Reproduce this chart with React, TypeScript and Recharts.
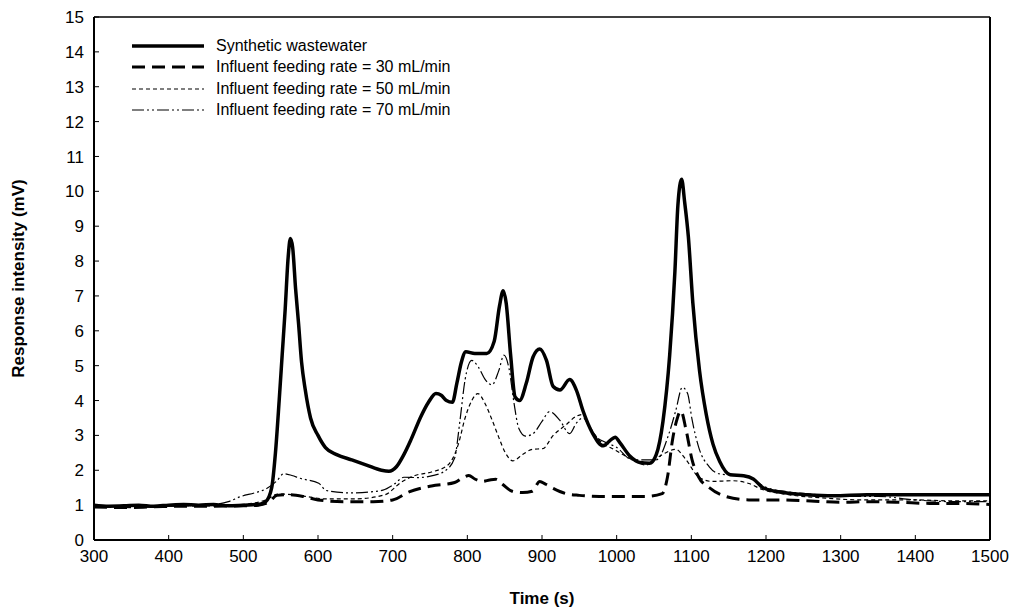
import React from "react";
import { Line, LineChart, ReferenceLine, XAxis, YAxis } from "recharts";

const FONT = '"Liberation Sans", Arial, Helvetica, sans-serif';

const X_TICKS = [300, 400, 500, 600, 700, 800, 900, 1000, 1100, 1200, 1300, 1400, 1500];
const Y_TICKS = [0, 1, 2, 3, 4, 5, 6, 7, 8, 9, 10, 11, 12, 13, 14, 15];

// Synthetic wastewater
const SYN_T = [
  300, 320, 340, 360, 380, 400, 420, 440, 460, 480, 500, 520, 530, 538, 543, 548, 552, 556, 560, 563,
  566, 570, 574, 578, 583, 590, 600, 610, 625, 645, 665, 685, 695, 705, 715, 725, 738, 748, 758, 765,
  772, 780, 786, 792, 798, 810, 826, 836, 843, 848, 852, 858, 864, 870, 879, 888, 897, 906, 915, 924,
  937, 946, 955, 968, 982, 991, 998, 1004, 1018, 1031, 1044, 1053, 1062, 1071, 1078, 1082, 1087, 1091,
  1096, 1102, 1111, 1120, 1129, 1138, 1152, 1170, 1183, 1196, 1223, 1255, 1290, 1335, 1380, 1430, 1500,
];
const SYN_V = [
  1.0, 0.97, 0.98, 1.0, 0.97, 1.0, 1.02, 1.0, 1.02, 0.98, 1.0, 1.02, 1.1, 1.5, 2.5, 4.0, 5.3, 6.6, 8.1, 8.65,
  8.4, 7.2, 6.2, 5.1, 4.3, 3.5, 3.0, 2.65, 2.45, 2.3, 2.15, 2.0, 1.97, 2.1, 2.45, 2.9, 3.55, 3.95, 4.2, 4.15,
  4.0, 3.95, 4.5, 5.1, 5.4, 5.35, 5.35, 5.7, 6.7, 7.15, 6.8, 5.3, 4.1, 4.0, 4.5, 5.25, 5.48, 5.15, 4.4, 4.3,
  4.6, 4.3, 3.7, 3.05, 2.7, 2.85, 2.95, 2.8, 2.4, 2.22, 2.2, 2.45, 3.4, 5.3, 7.7, 9.6, 10.35, 9.7,
  8.7, 6.8, 4.85, 3.6, 2.75, 2.25, 1.87, 1.84, 1.75, 1.5, 1.36, 1.3, 1.27, 1.3, 1.3, 1.3, 1.3,
];

// Influent feeding rate = 30 mL/min
const R30_T = [
  300, 340, 380, 420, 460, 500, 520, 535, 545, 560, 580, 600, 634, 674, 700, 722, 752, 783, 795, 802,
  810, 820, 830, 838, 847, 860, 874, 887, 897, 905, 915, 932, 950, 977, 1000, 1040, 1061, 1068, 1075,
  1080, 1086, 1093, 1101, 1110, 1124, 1146, 1177, 1222, 1260, 1300, 1340, 1380, 1420, 1460, 1500,
];
const R30_V = [
  0.95, 0.93, 0.95, 0.97, 0.97, 0.98, 1.0, 1.1, 1.28, 1.3, 1.25, 1.15, 1.1, 1.1, 1.15, 1.38, 1.55, 1.65, 1.8, 1.85,
  1.75, 1.68, 1.72, 1.74, 1.6, 1.4, 1.36, 1.4, 1.68, 1.6, 1.48, 1.33, 1.28, 1.25, 1.25, 1.25, 1.33, 1.8, 2.9,
  3.4, 3.7, 3.15, 2.3, 1.8, 1.5, 1.25, 1.15, 1.15, 1.12, 1.08, 1.1, 1.08, 1.05, 1.05, 1.02,
];

// Influent feeding rate = 50 mL/min
const R50_T = [
  300, 350, 400, 450, 500, 530, 547, 565, 583, 610, 650, 690, 711, 730, 752, 774, 788, 797, 806, 814,
  824, 833, 842, 851, 861, 874, 887, 901, 915, 932, 946, 955, 964, 977, 999, 1021, 1039, 1061, 1079,
  1093, 1110, 1128, 1155, 1177, 1195, 1230, 1280, 1330, 1400, 1450, 1500,
];
const R50_V = [
  0.97, 0.97, 0.98, 0.98, 1.02, 1.15, 1.32, 1.3, 1.25, 1.18, 1.18, 1.3, 1.65, 1.85, 1.95, 2.15, 2.75, 3.5, 4.0, 4.2,
  3.9, 3.45, 2.95, 2.5, 2.27, 2.45, 2.6, 2.62, 3.0, 3.3, 3.55, 3.6, 3.25, 2.86, 2.57, 2.3, 2.15, 2.45, 2.6,
  2.3, 1.8, 1.68, 1.7, 1.62, 1.45, 1.3, 1.2, 1.15, 1.15, 1.12, 1.12,
];

// Influent feeding rate = 70 mL/min
const R70_T = [
  300, 350, 400, 450, 480, 497, 515, 529, 545, 554, 565, 576, 601, 611, 643, 670, 687, 702, 715, 734,
  752, 770, 783, 790, 797, 806, 815, 824, 833, 842, 849, 856, 862, 869, 878, 888, 900, 910, 924, 937,
  946, 955, 968, 985, 999, 1021, 1053, 1070, 1079, 1088, 1095, 1101, 1110, 1124, 1137, 1155, 1177, 1199,
  1230, 1270, 1300, 1350, 1400, 1450, 1500,
];
const R70_V = [
  0.95, 0.93, 0.97, 1.0, 1.1, 1.25, 1.35, 1.45, 1.7, 1.9, 1.85, 1.77, 1.63, 1.42, 1.35, 1.38, 1.43, 1.6, 1.8, 1.79,
  1.84, 1.98, 2.35, 3.4, 4.6, 5.15, 4.95, 4.6, 4.45, 4.85, 5.3, 4.9, 4.0, 3.2, 2.98, 3.05, 3.4, 3.68, 3.43, 3.05,
  3.35, 3.5, 3.05, 2.8, 2.67, 2.3, 2.3, 3.05, 3.7, 4.38, 4.2, 3.45, 2.65, 2.1, 1.9, 1.86, 1.8, 1.52,
  1.38, 1.3, 1.25, 1.25, 1.15, 1.1, 1.1,
];

const toPoints = (t: number[], v: number[]) => t.map((x, i) => ({ t: x, v: v[i] }));

const SERIES = [
  { name: "Synthetic wastewater", data: toPoints(SYN_T, SYN_V), width: 3.5, dash: undefined as string | undefined },
  { name: "Influent feeding rate = 30 mL/min", data: toPoints(R30_T, R30_V), width: 3, dash: "13 7" },
  { name: "Influent feeding rate = 50 mL/min", data: toPoints(R50_T, R50_V), width: 1.2, dash: "4 3" },
  { name: "Influent feeding rate = 70 mL/min", data: toPoints(R70_T, R70_V), width: 1.2, dash: "12 3 2 3 2 3" },
];

const TICK = { fill: "#000", fontSize: 17, fontFamily: FONT };
const TITLE = { fill: "#000", fontSize: 17, fontWeight: "bold", fontFamily: FONT };

function ChartLegend() {
  return (
    <div style={{ position: "absolute", left: 130, top: 35 }}>
      {SERIES.map((s) => (
        <div key={s.name} style={{ display: "flex", alignItems: "center", height: 21.5 }}>
          <svg width={76} height={10} style={{ marginRight: 10 }}>
            <line x1={2} y1={5} x2={74} y2={5} stroke="#000" strokeWidth={s.width} strokeDasharray={s.dash} />
          </svg>
          <span style={{ fontFamily: FONT, fontSize: 16, color: "#000" }}>{s.name}</span>
        </div>
      ))}
    </div>
  );
}

export default function App() {
  return (
    <div style={{ position: "absolute", left: 0, top: 0, width: 1010, height: 609, background: "#fff" }}>
      <LineChart width={1010} height={609} margin={{ top: 17, right: 20, bottom: 39, left: 50 }}>
        <XAxis
          type="number"
          dataKey="t"
          domain={[300, 1500]}
          ticks={X_TICKS}
          allowDataOverflow
          tick={TICK}
          tickSize={-5}
          tickMargin={15}
          height={30}
          axisLine={{ stroke: "#000", strokeWidth: 2 }}
          tickLine={{ stroke: "#000", strokeWidth: 1 }}
          label={{ value: "Time (s)", position: "insideBottom", offset: -34, style: TITLE }}
        />
        <YAxis
          type="number"
          domain={[0, 15]}
          ticks={Y_TICKS}
          allowDataOverflow
          tick={TICK}
          tickSize={-5}
          tickMargin={15}
          width={44}
          axisLine={{ stroke: "#000", strokeWidth: 2 }}
          tickLine={{ stroke: "#000", strokeWidth: 1 }}
          label={{
            value: "Response intensity (mV)",
            angle: -90,
            position: "insideLeft",
            offset: -32,
            style: { ...TITLE, textAnchor: "middle" },
          }}
        />
        <ReferenceLine y={15} stroke="#000" strokeWidth={1.5} />
        <ReferenceLine x={1500} stroke="#000" strokeWidth={2} />
        {SERIES.map((s) => (
          <Line
            key={s.name}
            data={s.data}
            dataKey="v"
            name={s.name}
            type="monotone"
            stroke="#000"
            strokeWidth={s.width}
            strokeDasharray={s.dash}
            dot={false}
            isAnimationActive={false}
          />
        ))}
      </LineChart>
      <ChartLegend />
    </div>
  );
}
